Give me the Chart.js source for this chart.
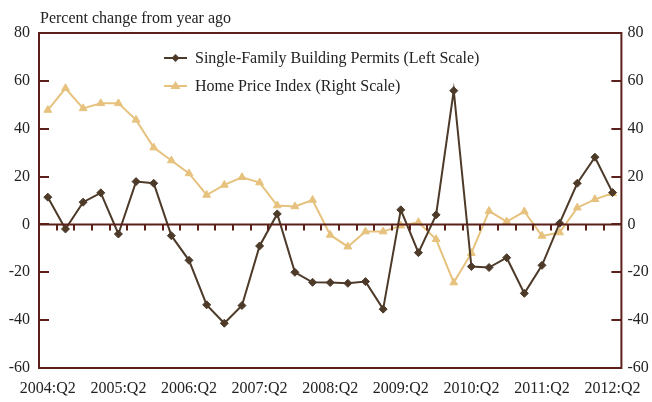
<!DOCTYPE html>
<html>
<head>
<meta charset="utf-8">
<script src="https://cdn.jsdelivr.net/npm/chart.js@4"></script>
<style>
  html, body { margin: 0; padding: 0; background: #fff; }
  #wrap { width: 652px; height: 402px; position: relative; }
</style>
</head>
<body>
<div id="wrap"><canvas id="chart"></canvas></div>
<script>
// Quarterly categories, 2004:Q2 through 2012:Q2
const quarters = [
    '2004:Q2', '2004:Q3', '2004:Q4', '2005:Q1',
    '2005:Q2', '2005:Q3', '2005:Q4', '2006:Q1',
    '2006:Q2', '2006:Q3', '2006:Q4', '2007:Q1',
    '2007:Q2', '2007:Q3', '2007:Q4', '2008:Q1',
    '2008:Q2', '2008:Q3', '2008:Q4', '2009:Q1',
    '2009:Q2', '2009:Q3', '2009:Q4', '2010:Q1',
    '2010:Q2', '2010:Q3', '2010:Q4', '2011:Q1',
    '2011:Q2', '2011:Q3', '2011:Q4', '2012:Q1',
    '2012:Q2'
];

// Single-family building permits, % change from year ago (left scale)
const permits = [
    11.4, -1.9, 9.3, 13.2, -4.0, 17.9, 17.2, -4.7,
    -15.0, -33.6, -41.3, -33.9, -9.0, 4.4, -20.0, -24.2,
    -24.3, -24.6, -23.9, -35.4, 6.1, -11.8, 4.0, 55.9,
    -17.6, -18.0, -13.9, -28.8, -17.1, 0.5, 17.2, 28.1,
    13.3
];

// Home price index, % change from year ago (right scale)
const homePrice = [
    47.8, 56.9, 48.5, 50.6, 50.6, 43.7, 32.1, 26.7,
    21.3, 12.3, 16.5, 19.7, 17.5, 7.9, 7.5, 10.2,
    -4.4, -9.3, -3.0, -3.0, -0.5, 0.9, -6.2, -24.3,
    -12.0, 5.6, 1.2, 5.4, -4.8, -3.4, 7.0, 10.5,
    13.0
];

const axisTicks = [-60, -40, -20, 0, 20, 40, 60, 80];

const AXIS_COLOR = '#5b2019';
const PERMIT_COLOR = '#4d3a29';
const HPI_COLOR = '#e6c27e';
const FONT = '"Liberation Serif", "DejaVu Serif", serif';

/**
 * Draws the frame, the zero line with its quarter ticks,
 * the inward axis ticks, the unit caption and the legend
 */
const decorations = {
    id: 'decorations',
    afterDatasetsDraw(chart) {
        const ctx = chart.ctx;
        const area = chart.chartArea;
        const x = chart.scales.x;
        const y = chart.scales.y;
        const zeroY = y.getPixelForValue(0);
        const step = x.getPixelForValue(1) - x.getPixelForValue(0);

        ctx.save();
        ctx.strokeStyle = AXIS_COLOR;
        ctx.lineWidth = 2;

        // zero line
        ctx.beginPath();
        ctx.moveTo(area.left, zeroY);
        ctx.lineTo(area.right, zeroY);
        ctx.stroke();

        // quarter boundary ticks hanging below the zero line
        ctx.beginPath();
        for (let i = 1; i < quarters.length; i++) {
            const px = Math.round(x.getPixelForValue(i) - step / 2);
            ctx.moveTo(px, zeroY);
            ctx.lineTo(px, zeroY + 6);
        }
        ctx.stroke();

        // inward ticks on both value axes
        ctx.beginPath();
        axisTicks.forEach(v => {
            const py = Math.round(y.getPixelForValue(v));
            ctx.moveTo(area.left, py);
            ctx.lineTo(area.left + 10, py);
            ctx.moveTo(area.right, py);
            ctx.lineTo(area.right - 10, py);
        });
        ctx.stroke();

        // frame
        ctx.strokeRect(area.left, area.top, area.right - area.left, area.bottom - area.top);

        // unit caption
        ctx.fillStyle = '#222';
        ctx.font = '16px ' + FONT;
        ctx.textAlign = 'left';
        ctx.textBaseline = 'alphabetic';
        ctx.fillText('Percent change from year ago', 40, 23);

        // legend
        const items = chart.data.datasets;
        items.forEach((ds, i) => {
            const ly = 58 + i * 28;
            ctx.strokeStyle = ds.borderColor;
            ctx.lineWidth = 2;
            ctx.beginPath();
            ctx.moveTo(164, ly);
            ctx.lineTo(187, ly);
            ctx.stroke();
            ctx.fillStyle = ds.borderColor;
            ctx.beginPath();
            if (ds.pointStyle === 'triangle') {
                ctx.moveTo(175.5, ly - 5);
                ctx.lineTo(180.5, ly + 3);
                ctx.lineTo(170.5, ly + 3);
            } else {
                ctx.moveTo(175.5, ly - 4);
                ctx.lineTo(179.5, ly);
                ctx.lineTo(175.5, ly + 4);
                ctx.lineTo(171.5, ly);
            }
            ctx.closePath();
            ctx.fill();
            ctx.fillStyle = '#222';
            ctx.textBaseline = 'middle';
            ctx.fillText(ds.label, 195, ly + 1);
        });
        ctx.restore();
    }
};

const ctx = document.getElementById('chart').getContext('2d');

new Chart(ctx, {
    type: 'line',
    data: {
        labels: quarters,
        datasets: [
            {
                label: 'Single-Family Building Permits (Left Scale)',
                data: permits,
                yAxisID: 'y',
                borderColor: PERMIT_COLOR,
                backgroundColor: PERMIT_COLOR,
                borderWidth: 2,
                pointStyle: 'rectRot',
                pointRadius: 4,
                pointBorderWidth: 1,
                tension: 0
            },
            {
                label: 'Home Price Index (Right Scale)',
                data: homePrice,
                yAxisID: 'y1',
                borderColor: HPI_COLOR,
                backgroundColor: HPI_COLOR,
                borderWidth: 2,
                pointStyle: 'triangle',
                pointRadius: 4.5,
                pointBorderWidth: 1,
                tension: 0
            }
        ]
    },
    options: {
        responsive: true,
        maintainAspectRatio: false,
        animation: false,
        layout: { padding: { top: 33, left: 0, right: 0, bottom: 0 } },
        scales: {
            x: {
                offset: true,
                grid: { display: false, drawTicks: false },
                border: { display: false },
                ticks: {
                    autoSkip: false,
                    maxRotation: 0,
                    padding: 11,
                    color: '#222',
                    font: { family: FONT, size: 16 },
                    callback: (value, index) => index % 4 === 0 ? quarters[index] : ''
                },
                afterFit: scale => { scale.height = 34; }
            },
            y: {
                position: 'left',
                min: -60,
                max: 80,
                grid: { display: false, drawTicks: false },
                border: { display: false },
                ticks: {
                    stepSize: 20,
                    padding: 9,
                    color: '#222',
                    font: { family: FONT, size: 16 }
                },
                afterFit: scale => { scale.width = 39; }
            },
            y1: {
                position: 'right',
                min: -60,
                max: 80,
                grid: { display: false, drawTicks: false },
                border: { display: false },
                ticks: {
                    stepSize: 20,
                    padding: 6,
                    color: '#222',
                    font: { family: FONT, size: 16 }
                },
                afterFit: scale => { scale.width = 28; }
            }
        },
        plugins: {
            legend: { display: false },
            tooltip: { enabled: false }
        }
    },
    plugins: [decorations]
});
</script>
</body>
</html>
